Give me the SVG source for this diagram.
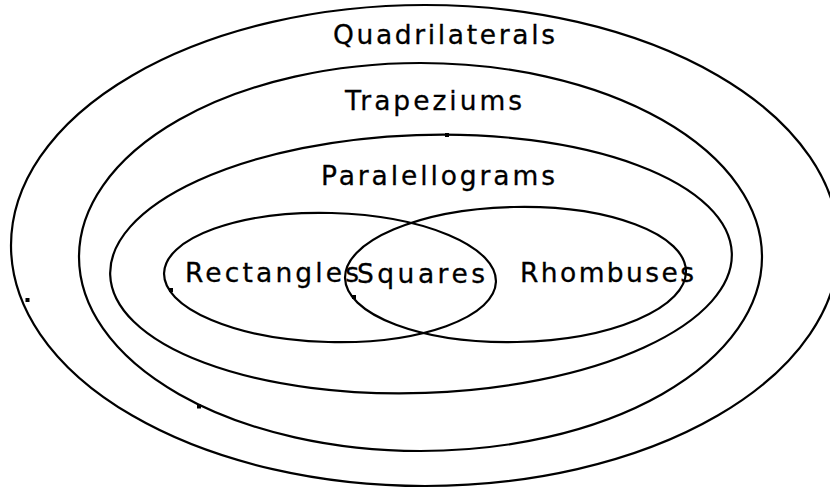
<svg xmlns="http://www.w3.org/2000/svg" width="830" height="488" viewBox="0 0 830 488">
  <style>
    .set { fill: none; stroke: #000; stroke-width: 2.2; }
    .lbl { font-family: "DejaVu Sans", Verdana, sans-serif; font-size: 26.5px; fill: #000; stroke: #000; stroke-width: 0.3; }
    .dot { fill: #000; }
  </style>
  <rect width="830" height="488" fill="#fff"/>
  <g id="quadrilaterals">
    <ellipse class="set" cx="425" cy="245.5" rx="414" ry="240.5"/>
    <text class="lbl" x="333" y="44" textLength="222" lengthAdjust="spacing">Quadrilaterals</text>
  </g>
  <g id="trapeziums">
    <ellipse class="set" cx="420.5" cy="257" rx="341.5" ry="194"/>
    <text class="lbl" x="345" y="110" textLength="177" lengthAdjust="spacing">Trapeziums</text>
  </g>
  <g id="paralellograms">
    <ellipse class="set" cx="421" cy="264" rx="311" ry="129" transform="rotate(-2 421 264)"/>
    <text class="lbl" x="321" y="185" textLength="234" lengthAdjust="spacing">Paralellograms</text>
  </g>
  <g id="rectangles">
    <ellipse class="set" cx="330" cy="277.5" rx="166" ry="64.5" transform="rotate(1.5 330 277.5)"/>
    <text class="lbl" x="185" y="282" textLength="174" lengthAdjust="spacing">Rectangles</text>
  </g>
  <g id="rhombuses">
    <ellipse class="set" cx="515.5" cy="274.5" rx="170.5" ry="67.5" transform="rotate(-1.2 515.5 274.5)"/>
    <text class="lbl" x="520" y="282" textLength="174" lengthAdjust="spacing">Rhombuses</text>
  </g>
  <g id="squares">
    <text class="lbl" x="357" y="283" textLength="128" lengthAdjust="spacing">Squares</text>
  </g>
  <g id="connectors"></g>
  <g id="marks">
    <rect class="dot" x="445" y="133" width="4" height="4"/>
    <rect class="dot" x="169" y="288" width="4" height="4"/>
    <rect class="dot" x="352" y="295" width="4" height="4"/>
    <rect class="dot" x="25.5" y="298" width="4" height="4"/>
    <rect class="dot" x="197" y="404.5" width="4" height="4"/>
  </g>
</svg>
